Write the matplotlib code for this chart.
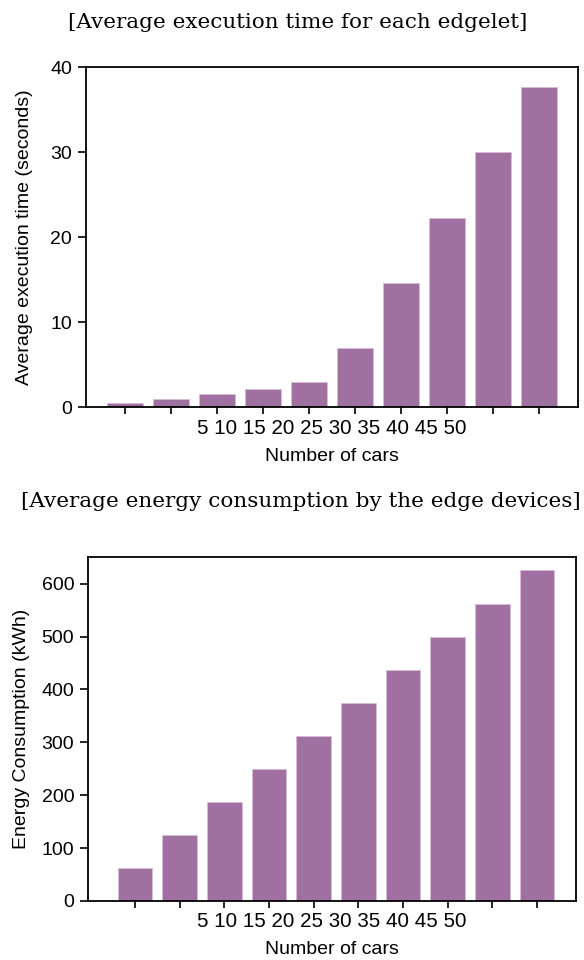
import numpy as np
import matplotlib
matplotlib.use("Agg")
import matplotlib.pyplot as plt

cars = [5, 10, 15, 20, 25, 30, 35, 40, 45, 50]
exec_time = [0.5, 1.0, 1.5, 2.1, 2.9, 7.0, 14.6, 22.3, 30.0, 37.7]
energy = [62, 125, 187, 250, 312, 375, 437, 500, 562, 625]

bar_color = "#a070a0"
plt.rcParams['font.family'] = ['Liberation Sans', 'DejaVu Sans']
plt.rcParams['font.size'] = 14

fig = plt.figure(figsize=(5.84, 9.6), dpi=100)
ax1 = fig.add_axes([0.147, 0.576, 0.843, 0.354])
ax2 = fig.add_axes([0.151, 0.0615, 0.835, 0.358])

x = np.arange(len(cars))
tick_text = " ".join(str(c) for c in cars)


def style(ax, values, ylabel, ylim, yticks, xlim, label_x):
    ax.bar(x, values, width=0.78, color=bar_color, edgecolor="#d8bcd8", linewidth=0.6)
    ax.set_xlim(*xlim)
    ax.set_ylim(*ylim)
    ax.set_yticks(yticks)
    ax.set_xticks(x)
    ax.set_xticklabels([""] * len(x))
    ax.tick_params(axis="y", direction="out", length=6, width=1.2, colors="black", pad=4)
    ax.tick_params(axis="x", direction="out", length=5, width=1.2, colors="black")
    for s in ax.spines.values():
        s.set_linewidth(1.3)
    ax.annotate(tick_text, xy=(0.5, 0), xycoords="axes fraction", xytext=(0, -21),
                textcoords="offset pixels", ha="center", va="center", fontsize=14.8)
    ax.annotate("Number of cars", xy=(0.5, 0), xycoords="axes fraction", xytext=(0, -49),
                textcoords="offset pixels", ha="center", va="center", fontsize=14)
    pos = ax.get_position()
    fig.text(label_x, pos.y0 + pos.height / 2, ylabel, rotation=90, ha="center", va="center",
             fontsize=14)


style(ax1, exec_time, "Average execution time (seconds)", (0, 40), [0, 10, 20, 30, 40],
      (-0.86, 9.85), 25 / 584)
style(ax2, energy, "Energy Consumption (kWh)", (0, 650), [0, 100, 200, 300, 400, 500, 600],
      (-1.05, 9.87), 22 / 584)

t1 = fig.text(298 / 584, 0.971, "[Average execution time for each edgelet]", ha="center",
              va="baseline", family="DejaVu Serif", fontsize=13)
t2 = fig.text(301 / 584, 0.472, "[Average energy consumption by the edge devices]", ha="center",
              va="baseline", family="DejaVu Serif", fontsize=13)

# size the titles so the top one is about 457 px wide
renderer = fig.canvas.get_renderer()
w = t1.get_window_extent(renderer).width
size = 13 * 457 / w
t1.set_fontsize(size)
t2.set_fontsize(size)

plt.savefig("out.png", dpi=100)
